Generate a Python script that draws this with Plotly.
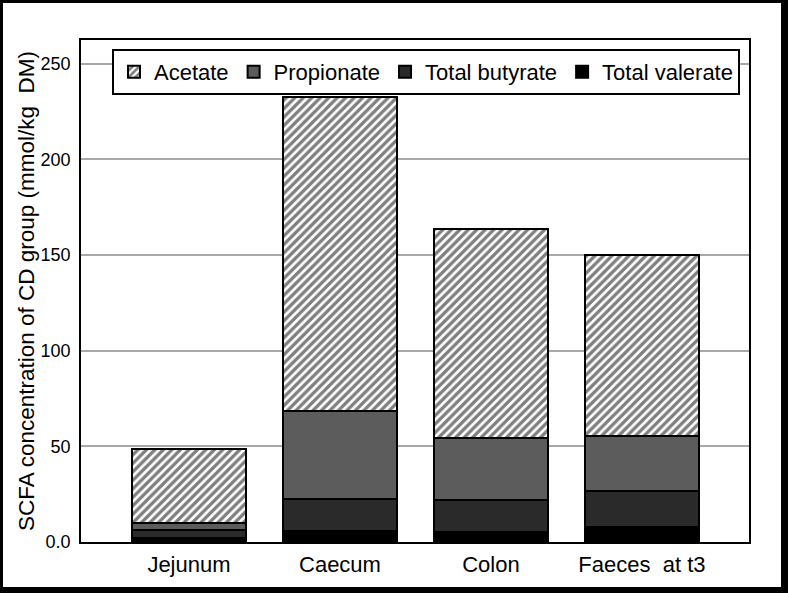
import plotly.graph_objects as go

categories = ["Jejunum", "Caecum", "Colon", "Faeces  at t3"]
valerate = [2.2, 5.7, 5.2, 7.7]
butyrate = [3.9, 16.6, 16.9, 19.1]
propionate = [3.8, 46.3, 32.1, 28.8]
acetate = [38.6, 164.2, 109.2, 94.3]
tick_vals = [0, 50, 100, 150, 200, 250]
tick_text = ["0.0", "50", "100", "150", "200", "250"]

W, H = 788, 593
L, R, T, B = 81, 39, 40, 51
PW, PH = W - L - R, H - T - B

FONT = "Liberation Sans, Arial, sans-serif"
line = dict(color="black", width=2)
xpos = list(range(len(categories)))

fig = go.Figure()
fig.add_trace(go.Bar(x=xpos, y=valerate, name="Total valerate", legendrank=4,
                     marker=dict(color="#000000", line=line), width=0.75))
fig.add_trace(go.Bar(x=xpos, y=butyrate, name="Total butyrate", legendrank=3,
                     marker=dict(color="#2a2a2a", line=line), width=0.75))
fig.add_trace(go.Bar(x=xpos, y=propionate, name="Propionate", legendrank=2,
                     marker=dict(color="#5c5c5c", line=line), width=0.75))
fig.add_trace(go.Bar(x=xpos, y=acetate, name="Acetate", legendrank=1,
                     marker=dict(color="white", line=line,
                                 pattern=dict(shape="/", fgcolor="black", bgcolor="white",
                                              size=6, solidity=0.55)),
                     width=0.75))

def px2x(px):
    return (px - L) / PW

def py2y(py):
    return (H - B - py) / PH

shapes = []
for (x0, y0, x1, y1) in [(0, 0, 3, H), (0, 0, W, 3), (W - 7, 0, W, H), (0, H - 6, W, H)]:
    shapes.append(dict(type="rect", xref="paper", yref="paper",
                       x0=px2x(x0), x1=px2x(x1), y0=py2y(y1), y1=py2y(y0),
                       fillcolor="black", line=dict(width=0), layer="above"))

fig.update_layout(
    width=W, height=H,
    margin=dict(l=L, r=R, t=T, b=B, autoexpand=False),
    barmode="stack",
    paper_bgcolor="white", plot_bgcolor="white",
    font=dict(family=FONT, color="black", size=18),
    showlegend=True,
    legend=dict(orientation="h", x=px2x(112), y=py2y(49), xanchor="left", yanchor="top",
                bordercolor="black", borderwidth=2, bgcolor="white",
                font=dict(size=22, family=FONT), traceorder="normal",
                itemwidth=30, tracegroupgap=0),
    xaxis=dict(range=[-0.715, 3.709], tickvals=xpos, ticktext=categories,
               showline=True, linecolor="black", linewidth=1.5, mirror=True,
               showgrid=False, ticks="", tickfont=dict(size=22), ticklabelstandoff=2,
               zeroline=False),
    yaxis=dict(range=[0, 262.4], tickvals=tick_vals, ticktext=tick_text,
               showline=True, linecolor="black", linewidth=1.5, mirror=True,
               showgrid=True, gridcolor="#a8a8a8", gridwidth=1.5, ticks="",
               tickfont=dict(size=18), ticklabelstandoff=5, zeroline=False,
               title=dict(text="SCFA concentration of CD group (mmol/kg  DM)",
                          font=dict(size=22.5), standoff=0)),
    shapes=shapes,
)

fig.write_html("out.html")
